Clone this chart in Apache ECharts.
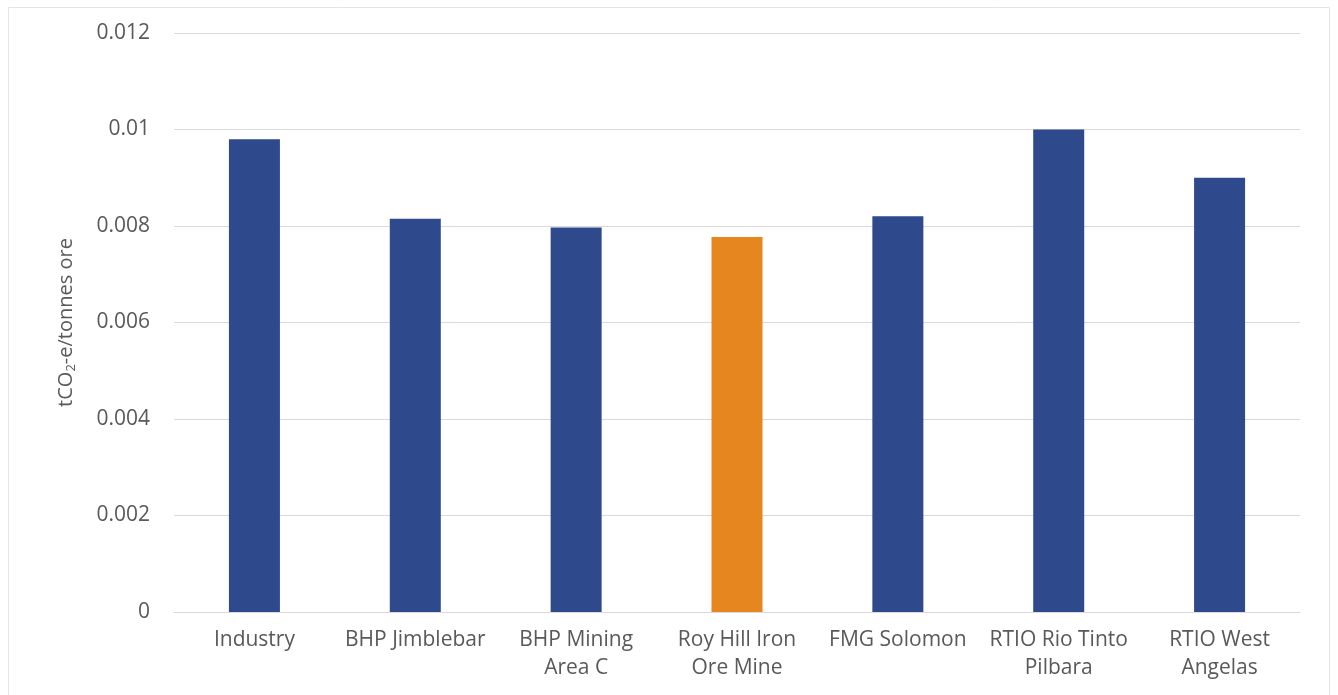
<!DOCTYPE html>
<html>
<head>
<meta charset="utf-8">
<style>
  html, body { margin: 0; padding: 0; background: #ffffff; }
  #chart { width: 1338px; height: 695px; }
</style>
<script src="https://cdn.jsdelivr.net/npm/echarts@6/dist/echarts.min.js"></script>
</head>
<body>
<div id="chart"></div>
<script>
// ---- data ----
const categories = [
  'Industry',
  'BHP Jimblebar',
  'BHP Mining\nArea C',
  'Roy Hill Iron\nOre Mine',
  'FMG Solomon',
  'RTIO Rio Tinto\nPilbara',
  'RTIO West\nAngelas'
];
const intensityValues = [0.0098, 0.00815, 0.00797, 0.00777, 0.0082, 0.0100, 0.0090];
const highlightCategory = 'Roy Hill Iron\nOre Mine';
const yTickLabels = ['0', '0.002', '0.004', '0.006', '0.008', '0.01', '0.012'];

const BLUE = '#2E4A8C';
const ORANGE = '#E6861E';
const TEXT = '#595959';
const FONT = '"Open Sans", "Liberation Sans", sans-serif';

const seriesData = categories.map((c, i) => ({
  value: intensityValues[i],
  itemStyle: { color: c === highlightCategory ? ORANGE : BLUE }
}));

const chart = echarts.init(document.getElementById('chart'), null, { renderer: 'canvas' });
chart.setOption({
  backgroundColor: '#ffffff',
  animation: false,
  graphic: [{
    type: 'rect',
    silent: true,
    z: -10,
    shape: { x: 8.5, y: 7.5, width: 1321, height: 720 },
    style: { fill: 'none', stroke: '#e4e4e4', lineWidth: 1 }
  }],
  grid: { left: 174, right: 38, top: 33, bottom: 83, containLabel: false },
  xAxis: {
    type: 'category',
    data: categories,
    axisLine: { show: true, lineStyle: { color: '#d9d9d9', width: 1 } },
    axisTick: { show: false },
    axisLabel: {
      color: TEXT, fontFamily: FONT, fontSize: 21, lineHeight: 28,
      margin: 14, interval: 0
    }
  },
  yAxis: {
    type: 'value',
    min: 0, max: 0.012, interval: 0.002,
    axisLine: { show: false },
    axisTick: { show: false },
    splitLine: { lineStyle: { color: '#d9d9d9', width: 1 } },
    axisLabel: {
      color: TEXT, fontFamily: FONT, fontSize: 21, margin: 24,
      formatter: (v) => {
        const idx = Math.round(v / 0.002);
        return yTickLabels[idx] !== undefined ? yTickLabels[idx] : '';
      }
    },
    name: '{a|tCO}{s|2}{a|-e/tonnes ore}',
    nameLocation: 'middle',
    nameGap: 96,
    nameRotate: 90,
    nameTextStyle: {
      color: TEXT, fontFamily: FONT, fontSize: 20,
      rich: {
        a: { color: TEXT, fontFamily: FONT, fontSize: 20, lineHeight: 24 },
        s: { color: TEXT, fontFamily: FONT, fontSize: 13, lineHeight: 14, verticalAlign: 'bottom' }
      }
    }
  },
  series: [{
    type: 'bar',
    data: seriesData,
    barWidth: 51
  }]
});
</script>
</body>
</html>
